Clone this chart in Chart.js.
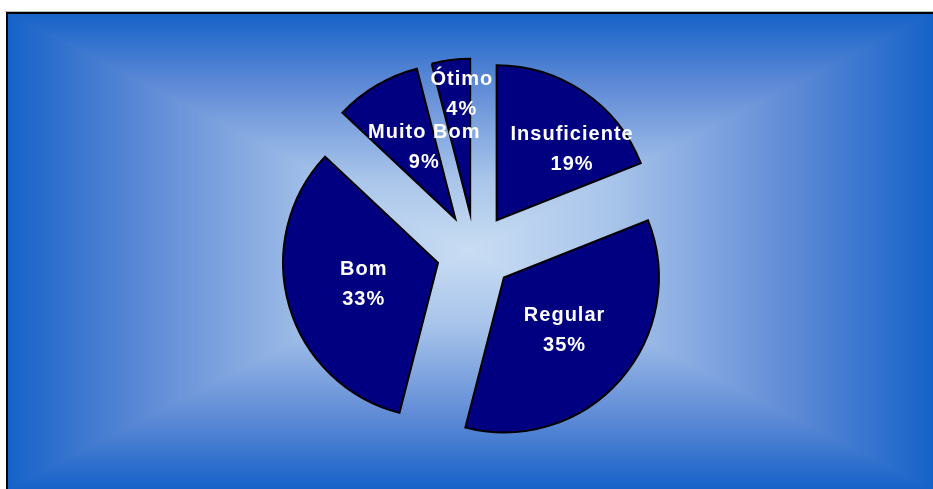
<!DOCTYPE html>
<html>
<head>
<meta charset="utf-8">
<script src="https://cdn.jsdelivr.net/npm/chart.js@4"></script>
<style>
  html, body { margin: 0; padding: 0; background: #fff; }
  canvas { display: block; }
</style>
</head>
<body>
<canvas id="pieChart" width="933" height="489"></canvas>
<script>
var categories = ['Insuficiente', 'Regular', 'Bom', 'Muito Bom', 'Ótimo'];
var percentages = [19, 35, 33, 9, 4];

// look
var explodePx = 38.5;
var labelShiftDeg = [12, -1, 1, 7, 3];
var labelRadius = [0.67, 0.51, 0.5, 0.51, 0.78];
var gradStops = [
    [0, [21, 98, 200]],
    [0.3, [94, 138, 214]],
    [0.7, [169, 197, 234]],
    [1, [201, 221, 243]]
];

function stopColor(s) {
    for (var i = 1; i < gradStops.length; i++) {
        if (s <= gradStops[i][0]) {
            var a = gradStops[i - 1], b = gradStops[i];
            var f = (s - a[0]) / (b[0] - a[0]);
            return a[1].map((c, k) => c + (b[1][k] - c) * f);
        }
    }
    return gradStops[gradStops.length - 1][1];
}

var bgCache = null;
function buildBackground(w, h) {
    var off = document.createElement('canvas');
    off.width = w; off.height = h;
    var octx = off.getContext('2d');
    var img = octx.createImageData(w, h);
    var x0 = 7, y0 = 13, x1 = w, y1 = h;
    var cx = (x0 + x1) / 2, cy = (y0 + y1) / 2;
    var hw = (x1 - x0) / 2, hh = (y1 - y0) / 2;
    for (var y = 0; y < h; y++) {
        for (var x = 0; x < w; x++) {
            var idx = (y * w + x) * 4;
            var col;
            if (x < x0 || y < y0) {
                col = [255, 255, 255];
            } else {
                var t = Math.max(Math.abs(x + 0.5 - cx) / hw, Math.abs(y + 0.5 - cy) / hh);
                col = stopColor(Math.max(0, 1 - t));
            }
            img.data[idx] = col[0];
            img.data[idx + 1] = col[1];
            img.data[idx + 2] = col[2];
            img.data[idx + 3] = 255;
        }
    }
    octx.putImageData(img, 0, 0);
    // frame
    octx.fillStyle = '#b8b8b8';
    octx.fillRect(5, 11, w - 5, 1);
    octx.fillStyle = '#000';
    octx.fillRect(6, 12, w - 6, 2);
    octx.fillRect(6, 12, 2, h - 12);
    return off;
}

var backgroundPlugin = {
    id: 'rectGradient',
    beforeDraw: function(chart) {
        if (!bgCache) bgCache = buildBackground(chart.width, chart.height);
        chart.ctx.drawImage(bgCache, 0, 0);
    }
};

var explodePlugin = {
    id: 'explode',
    beforeDatasetDraw: function(chart, args) {
        var ctx = chart.ctx;
        args.meta.data.forEach(function(arc) {
            var mid = (arc.startAngle + arc.endAngle) / 2;
            ctx.save();
            ctx.translate(Math.cos(mid) * explodePx, Math.sin(mid) * explodePx);
            arc.draw(ctx);
            ctx.restore();
        });
        return false;
    },
    afterDatasetsDraw: function(chart) {
        var ctx = chart.ctx;
        var meta = chart.getDatasetMeta(0);
        ctx.save();
        ctx.font = 'bold 20px "Liberation Sans", Arial, sans-serif';
        ctx.letterSpacing = '1px';
        ctx.fillStyle = '#ffffff';
        ctx.textAlign = 'center';
        ctx.textBaseline = 'alphabetic';
        meta.data.forEach(function(arc, i) {
            var mid = (arc.startAngle + arc.endAngle) / 2;
            var ax = arc.x + Math.cos(mid) * explodePx;
            var ay = arc.y + Math.sin(mid) * explodePx;
            var a = mid + labelShiftDeg[i] * Math.PI / 180;
            var r = arc.outerRadius * labelRadius[i];
            var px = ax + Math.cos(a) * r;
            var py = ay + Math.sin(a) * r;
            ctx.fillText(categories[i], px + 0.5, py - 15 + 7);
            ctx.fillText(percentages[i] + '%', px + 0.5, py + 15 + 7);
        });
        ctx.restore();
    }
};

var pieChart = new Chart(document.getElementById('pieChart'), {
    type: 'pie',
    data: {
        labels: categories,
        datasets: [{
            data: percentages,
            backgroundColor: '#000080',
            borderColor: '#000000',
            borderWidth: 2,
            borderJoinStyle: 'miter'
        }]
    },
    options: {
        responsive: false,
        animation: false,
        radius: 155,
        layout: { padding: { left: 17, top: 15, right: 0, bottom: 0 } },
        plugins: {
            legend: { display: false },
            tooltip: { enabled: false }
        }
    },
    plugins: [backgroundPlugin, explodePlugin]
});
</script>
</body>
</html>
